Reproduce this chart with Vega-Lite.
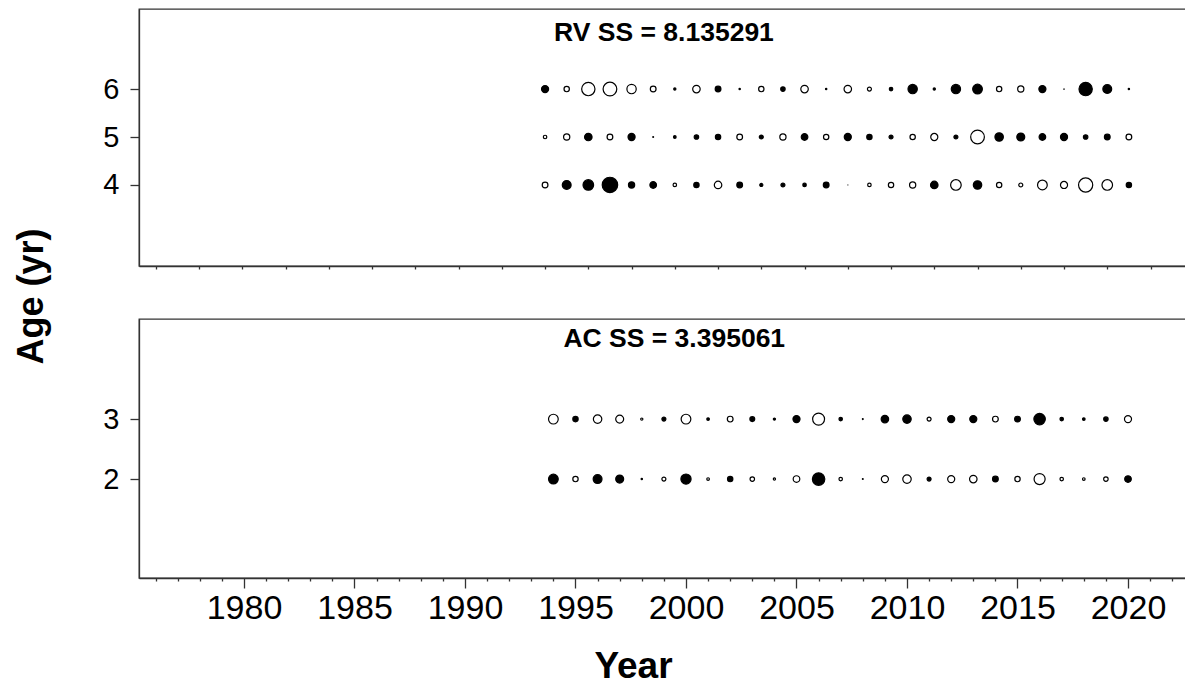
{
  "$schema": "https://vega.github.io/schema/vega-lite/v6.json",
  "autosize": {"type": "pad"},
  "padding": {"left": 12, "top": 8, "right": 0, "bottom": 0},
  "background": "white",
  "bounds": "flush",
  "spacing": 53,
  "config": {
    "font": "Liberation Sans",
    "view": {"stroke": "#333333", "strokeWidth": 1.3},
    "axis": {"grid": false, "domainColor": "#333333", "domainWidth": 1.3, "tickColor": "#333333", "tickWidth": 1.3, "labelColor": "#000000", "labelFont": "Liberation Sans", "labelFontSize": 29, "titleFont": "Liberation Sans", "titleColor": "#000000"}
  },
  "datasets": {
    "rv": [
      {"year":1993,"age":6,"r":0.89,"s":"+"},{"year":1994,"age":6,"r":0.67,"s":"-"},{"year":1995,"age":6,"r":1.67,"s":"-"},{"year":1996,"age":6,"r":1.72,"s":"-"},{"year":1997,"age":6,"r":1.17,"s":"-"},{"year":1998,"age":6,"r":0.72,"s":"-"},{"year":1999,"age":6,"r":0.28,"s":"+"},{"year":2000,"age":6,"r":0.94,"s":"-"},{"year":2001,"age":6,"r":0.72,"s":"+"},{"year":2002,"age":6,"r":0.17,"s":"+"},{"year":2003,"age":6,"r":0.67,"s":"-"},{"year":2004,"age":6,"r":0.56,"s":"+"},{"year":2005,"age":6,"r":0.94,"s":"-"},{"year":2006,"age":6,"r":0.17,"s":"+"},{"year":2007,"age":6,"r":0.94,"s":"-"},{"year":2008,"age":6,"r":0.5,"s":"-"},{"year":2009,"age":6,"r":0.44,"s":"+"},{"year":2010,"age":6,"r":1.17,"s":"+"},{"year":2011,"age":6,"r":0.28,"s":"+"},{"year":2012,"age":6,"r":1.17,"s":"+"},{"year":2013,"age":6,"r":1.22,"s":"+"},{"year":2014,"age":6,"r":0.67,"s":"-"},{"year":2015,"age":6,"r":0.78,"s":"-"},{"year":2016,"age":6,"r":0.89,"s":"+"},{"year":2017,"age":6,"r":0.06,"s":"+"},{"year":2018,"age":6,"r":1.67,"s":"+"},{"year":2019,"age":6,"r":1.11,"s":"+"},{"year":2020,"age":6,"r":0.17,"s":"+"},
      {"year":1993,"age":5,"r":0.44,"s":"-"},{"year":1994,"age":5,"r":0.78,"s":"-"},{"year":1995,"age":5,"r":0.94,"s":"+"},{"year":1996,"age":5,"r":0.72,"s":"-"},{"year":1997,"age":5,"r":0.89,"s":"+"},{"year":1998,"age":5,"r":0.11,"s":"+"},{"year":1999,"age":5,"r":0.33,"s":"+"},{"year":2000,"age":5,"r":0.56,"s":"+"},{"year":2001,"age":5,"r":0.67,"s":"+"},{"year":2002,"age":5,"r":0.72,"s":"-"},{"year":2003,"age":5,"r":0.5,"s":"+"},{"year":2004,"age":5,"r":0.78,"s":"-"},{"year":2005,"age":5,"r":0.83,"s":"+"},{"year":2006,"age":5,"r":0.67,"s":"-"},{"year":2007,"age":5,"r":0.89,"s":"+"},{"year":2008,"age":5,"r":0.67,"s":"+"},{"year":2009,"age":5,"r":0.5,"s":"+"},{"year":2010,"age":5,"r":0.67,"s":"-"},{"year":2011,"age":5,"r":0.89,"s":"-"},{"year":2012,"age":5,"r":0.5,"s":"+"},{"year":2013,"age":5,"r":1.72,"s":"-"},{"year":2014,"age":5,"r":1.06,"s":"+"},{"year":2015,"age":5,"r":1.0,"s":"+"},{"year":2016,"age":5,"r":0.83,"s":"+"},{"year":2017,"age":5,"r":0.89,"s":"+"},{"year":2018,"age":5,"r":0.56,"s":"+"},{"year":2019,"age":5,"r":0.72,"s":"+"},{"year":2020,"age":5,"r":0.72,"s":"-"},
      {"year":1993,"age":4,"r":0.72,"s":"-"},{"year":1994,"age":4,"r":1.11,"s":"+"},{"year":1995,"age":4,"r":1.33,"s":"+"},{"year":1996,"age":4,"r":1.94,"s":"+"},{"year":1997,"age":4,"r":0.78,"s":"+"},{"year":1998,"age":4,"r":0.83,"s":"+"},{"year":1999,"age":4,"r":0.44,"s":"-"},{"year":2000,"age":4,"r":0.67,"s":"+"},{"year":2001,"age":4,"r":0.94,"s":"-"},{"year":2002,"age":4,"r":0.72,"s":"+"},{"year":2003,"age":4,"r":0.39,"s":"+"},{"year":2004,"age":4,"r":0.5,"s":"+"},{"year":2005,"age":4,"r":0.44,"s":"+"},{"year":2006,"age":4,"r":0.72,"s":"+"},{"year":2007,"age":4,"r":0.03,"s":"-"},{"year":2008,"age":4,"r":0.44,"s":"-"},{"year":2009,"age":4,"r":0.67,"s":"-"},{"year":2010,"age":4,"r":0.78,"s":"-"},{"year":2011,"age":4,"r":0.94,"s":"+"},{"year":2012,"age":4,"r":1.33,"s":"-"},{"year":2013,"age":4,"r":1.06,"s":"+"},{"year":2014,"age":4,"r":0.67,"s":"-"},{"year":2015,"age":4,"r":0.5,"s":"-"},{"year":2016,"age":4,"r":1.22,"s":"-"},{"year":2017,"age":4,"r":0.89,"s":"-"},{"year":2018,"age":4,"r":1.78,"s":"-"},{"year":2019,"age":4,"r":1.33,"s":"-"},{"year":2020,"age":4,"r":0.67,"s":"+"}
    ],
    "ac": [
      {"year":1994,"age":3,"r":1.22,"s":"-"},{"year":1995,"age":3,"r":0.67,"s":"+"},{"year":1996,"age":3,"r":1.06,"s":"-"},{"year":1997,"age":3,"r":1.0,"s":"-"},{"year":1998,"age":3,"r":0.28,"s":"-"},{"year":1999,"age":3,"r":0.5,"s":"+"},{"year":2000,"age":3,"r":1.22,"s":"-"},{"year":2001,"age":3,"r":0.33,"s":"+"},{"year":2002,"age":3,"r":0.72,"s":"-"},{"year":2003,"age":3,"r":0.61,"s":"+"},{"year":2004,"age":3,"r":0.28,"s":"+"},{"year":2005,"age":3,"r":0.89,"s":"+"},{"year":2006,"age":3,"r":1.5,"s":"-"},{"year":2007,"age":3,"r":0.44,"s":"+"},{"year":2008,"age":3,"r":0.11,"s":"+"},{"year":2009,"age":3,"r":0.94,"s":"+"},{"year":2010,"age":3,"r":1.06,"s":"+"},{"year":2011,"age":3,"r":0.5,"s":"-"},{"year":2012,"age":3,"r":0.89,"s":"+"},{"year":2013,"age":3,"r":0.89,"s":"+"},{"year":2014,"age":3,"r":0.72,"s":"-"},{"year":2015,"age":3,"r":0.72,"s":"+"},{"year":2016,"age":3,"r":1.44,"s":"+"},{"year":2017,"age":3,"r":0.44,"s":"+"},{"year":2018,"age":3,"r":0.33,"s":"+"},{"year":2019,"age":3,"r":0.56,"s":"+"},{"year":2020,"age":3,"r":0.89,"s":"-"},
      {"year":1994,"age":2,"r":1.22,"s":"+"},{"year":1995,"age":2,"r":0.67,"s":"-"},{"year":1996,"age":2,"r":1.11,"s":"+"},{"year":1997,"age":2,"r":1.0,"s":"+"},{"year":1998,"age":2,"r":0.17,"s":"+"},{"year":1999,"age":2,"r":0.5,"s":"-"},{"year":2000,"age":2,"r":1.28,"s":"+"},{"year":2001,"age":2,"r":0.33,"s":"-"},{"year":2002,"age":2,"r":0.67,"s":"+"},{"year":2003,"age":2,"r":0.56,"s":"-"},{"year":2004,"age":2,"r":0.28,"s":"-"},{"year":2005,"age":2,"r":0.83,"s":"-"},{"year":2006,"age":2,"r":1.56,"s":"+"},{"year":2007,"age":2,"r":0.44,"s":"-"},{"year":2008,"age":2,"r":0.11,"s":"+"},{"year":2009,"age":2,"r":0.89,"s":"-"},{"year":2010,"age":2,"r":1.06,"s":"-"},{"year":2011,"age":2,"r":0.5,"s":"+"},{"year":2012,"age":2,"r":0.89,"s":"-"},{"year":2013,"age":2,"r":0.94,"s":"-"},{"year":2014,"age":2,"r":0.72,"s":"+"},{"year":2015,"age":2,"r":0.67,"s":"-"},{"year":2016,"age":2,"r":1.39,"s":"-"},{"year":2017,"age":2,"r":0.44,"s":"-"},{"year":2018,"age":2,"r":0.33,"s":"-"},{"year":2019,"age":2,"r":0.56,"s":"-"},{"year":2020,"age":2,"r":0.83,"s":"+"}
    ],
    "rvlab": [{"year":1993,"age":7.17,"label":"RV SS = 8.135291"}],
    "aclab": [{"year":1994,"age":4.34,"label":"AC SS = 3.395061"}]
  },
  "vconcat": [
    {
      "width": 1050,
      "height": 257,
      "layer": [
        {
          "data": {"name": "rv"},
          "mark": {"type": "point", "shape": "circle", "filled": true, "stroke": "#000000", "strokeWidth": 1.2, "opacity": 1},
          "encoding": {
            "x": {"field": "year", "type": "quantitative", "scale": {"domain": [1974.22, 2022.78], "nice": false, "zero": false},
                  "axis": {"values": [1975,1976,1977,1978,1979,1980,1981,1982,1983,1984,1985,1986,1987,1988,1989,1990,1991,1992,1993,1994,1995,1996,1997,1998,1999,2000,2001,2002,2003,2004,2005,2006,2007,2008,2009,2010,2011,2012,2013,2014,2015,2016,2017,2018,2019,2020,2021,2022],
                           "labels": false, "tickSize": 3, "title": null}},
            "y": {"field": "age", "type": "quantitative", "scale": {"domain": [2.31, 7.67], "nice": false, "zero": false},
                  "axis": {"values": [4,5,6], "format": "d", "tickSize": 9, "labelPadding": 11, "title": "Age (yr)", "titleFontSize": 36, "titleFontWeight": "bold", "titleAngle": -90, "titleX": -108, "titleY": 287, "titleAlign": "center", "titleBaseline": "middle"}},
            "size": {"field": "r", "type": "quantitative", "scale": {"type": "pow", "exponent": 2, "domain": [0, 2], "range": [0, 254]}, "legend": null},
            "fill": {"field": "s", "type": "nominal", "scale": {"domain": ["+", "-"], "range": ["#000000", "#ffffff"]}, "legend": null}
          }
        },
        {
          "data": {"name": "rvlab"},
          "mark": {"type": "text", "align": "left", "baseline": "middle", "font": "Liberation Sans", "fontWeight": "bold", "fontSize": 26.5, "color": "#000000", "dx": 9},
          "encoding": {
            "x": {"field": "year", "type": "quantitative"},
            "y": {"field": "age", "type": "quantitative"},
            "text": {"field": "label"}
          }
        }
      ]
    },
    {
      "width": 1050,
      "height": 259,
      "resolve": {"axis": {"x": "independent"}},
      "layer": [
        {
          "data": {"name": "ac"},
          "mark": {"type": "point", "shape": "circle", "filled": true, "stroke": "#000000", "strokeWidth": 1.2, "opacity": 1},
          "encoding": {
            "x": {"field": "year", "type": "quantitative", "scale": {"domain": [1975.25, 2022.76], "nice": false, "zero": false},
                  "axis": {"orient": "bottom", "values": [1980,1985,1990,1995,2000,2005,2010,2015,2020],
                           "format": "d", "labelOverlap": false, "labelFontSize": 34,
                           "tickSize": 10, "labelPadding": 3, "labelBaseline": "top",
                           "title": "Year", "titleFontSize": 37, "titleFontWeight": "bold", "titleX": 494, "titleY": 88, "titleAlign": "center", "titleBaseline": "middle"}},
            "y": {"field": "age", "type": "quantitative", "scale": {"domain": [0.35, 4.67], "nice": false, "zero": false},
                  "axis": {"values": [2,3], "format": "d", "tickSize": 9, "labelPadding": 11, "title": null}},
            "size": {"field": "r", "type": "quantitative", "scale": {"type": "pow", "exponent": 2, "domain": [0, 2], "range": [0, 254]}, "legend": null},
            "fill": {"field": "s", "type": "nominal", "scale": {"domain": ["+", "-"], "range": ["#000000", "#ffffff"]}, "legend": null}
          }
        },
        {
          "data": {"name": "aclab"},
          "mark": {"type": "text", "align": "left", "baseline": "middle", "font": "Liberation Sans", "fontWeight": "bold", "fontSize": 26.5, "color": "#000000", "dx": 10},
          "encoding": {
            "x": {"field": "year", "type": "quantitative",
                  "axis": {"orient": "bottom", "values": [1976,1977,1978,1979,1981,1982,1983,1984,1986,1987,1988,1989,1991,1992,1993,1994,1996,1997,1998,1999,2001,2002,2003,2004,2006,2007,2008,2009,2011,2012,2013,2014,2016,2017,2018,2019,2021,2022],
                           "labels": false, "tickSize": 3, "title": null, "domain": false}},
            "y": {"field": "age", "type": "quantitative"},
            "text": {"field": "label"}
          }
        }
      ]
    }
  ]
}
